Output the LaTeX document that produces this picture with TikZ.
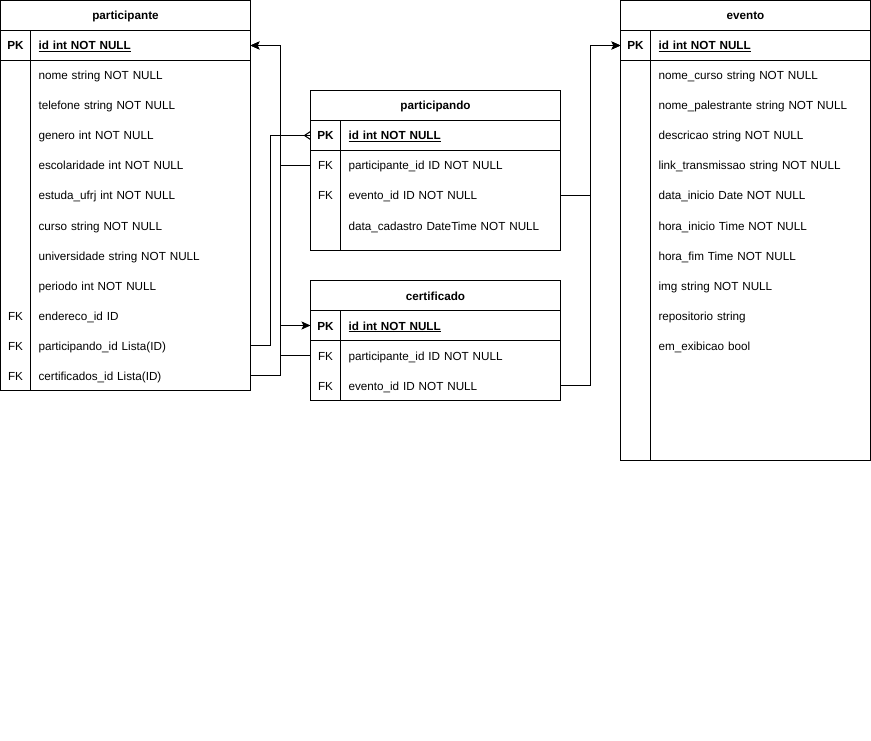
\documentclass[tikz,border=0pt]{standalone}
\usepackage{fontspec}
\setmainfont{Liberation Sans}
\usetikzlibrary{arrows.meta}
\begin{document}
\begin{tikzpicture}[x=1pt,y=-1pt,line width=1pt,
  every node/.style={outer sep=0pt,text height=10pt,text depth=1pt},
  hdr/.style={inner sep=0pt,font=\bfseries\fontsize{11.7pt}{14pt}\selectfont},
  keycell/.style={inner sep=0pt,minimum width=30pt,minimum height=30pt,font=\fontsize{11.7pt}{14pt}\selectfont},
  pkcell/.style={keycell,font=\bfseries\fontsize{11.7pt}{14pt}\selectfont},
  rowcell/.style={anchor=west,inner xsep=8pt,inner ysep=0pt,text width=204pt,align=left,minimum height=30pt,font=\fontsize{11.7pt}{14pt}\selectfont},
  idcell/.style={rowcell,font=\bfseries\fontsize{11.7pt}{14pt}\selectfont},
  arr/.style={-{Stealth[length=9pt,width=8pt,inset=2pt,fill=black]}}]
\useasboundingbox (-0.5,-0.5) rectangle (870.5,740.5);

% ---------- participante ----------
\draw (0,0) rectangle (250,390);
\draw (0,30) -- (250,30);
\draw (0,60) -- (250,60);
\draw (30,30) -- (30,390);
\node[hdr] (pt) at (125,15) {participante};
\node[pkcell] (pt-pk) at (15,45) {PK};
\node[idcell] (pt-id) at (30,45) {\underline{id int NOT NULL}};
\foreach \t [count=\i] in {nome string NOT NULL,telefone string NOT NULL,genero int NOT NULL,escolaridade int NOT NULL,estuda\_ufrj int NOT NULL,curso string NOT NULL,universidade string NOT NULL,periodo int NOT NULL,endereco\_id ID,participando\_id Lista(ID),certificados\_id Lista(ID)}
  \node[rowcell] (pt-r\i) at (30,45+30*\i) {\t};
\node[keycell] (pt-k9) at (15,315) {FK};
\node[keycell] (pt-k10) at (15,345) {FK};
\node[keycell] (pt-k11) at (15,375) {FK};

% ---------- participando ----------
\draw (310,90) rectangle (560,250);
\draw (310,120) -- (560,120);
\draw (310,150) -- (560,150);
\draw (340,120) -- (340,250);
\node[hdr] (pd) at (435,105) {participando};
\node[pkcell] (pd-pk) at (325,135) {PK};
\node[idcell] (pd-id) at (340,135) {\underline{id int NOT NULL}};
\node[keycell] (pd-k1) at (325,165) {FK};
\node[rowcell] (pd-r1) at (340,165) {participante\_id ID NOT NULL};
\node[keycell] (pd-k2) at (325,195) {FK};
\node[rowcell] (pd-r2) at (340,195) {evento\_id ID NOT NULL};
\node[rowcell] (pd-r3) at (340,225) {data\_cadastro DateTime NOT NULL};

% ---------- certificado ----------
\draw (310,280) rectangle (560,400);
\draw (310,310) -- (560,310);
\draw (310,340) -- (560,340);
\draw (340,310) -- (340,400);
\node[hdr] (ct) at (435,295) {certificado};
\node[pkcell] (ct-pk) at (325,325) {PK};
\node[idcell] (ct-id) at (340,325) {\underline{id int NOT NULL}};
\node[keycell] (ct-k1) at (325,355) {FK};
\node[rowcell] (ct-r1) at (340,355) {participante\_id ID NOT NULL};
\node[keycell] (ct-k2) at (325,385) {FK};
\node[rowcell] (ct-r2) at (340,385) {evento\_id ID NOT NULL};

% ---------- evento ----------
\draw (620,0) rectangle (870,460);
\draw (620,30) -- (870,30);
\draw (620,60) -- (870,60);
\draw (650,30) -- (650,460);
\node[hdr] (ev) at (745,15) {evento};
\node[pkcell] (ev-pk) at (635,45) {PK};
\node[idcell] (ev-id) at (650,45) {\underline{id int NOT NULL}};
\foreach \t [count=\i] in {nome\_curso string NOT NULL,nome\_palestrante string NOT NULL,descricao string NOT NULL,link\_transmissao string NOT NULL,data\_inicio Date NOT NULL,hora\_inicio Time NOT NULL,hora\_fim Time NOT NULL,img string NOT NULL,repositorio string,em\_exibicao bool}
  \node[rowcell] (ev-r\i) at (650,45+30*\i) {\t};

% ---------- connectors ----------
\draw (pt-r10.east) -- ++(20,0) |- (pd-pk.west);
\draw ([xshift=-6pt]pd-pk.west) -- ([yshift=4pt]pd-pk.west);
\draw ([xshift=-6pt]pd-pk.west) -- ([yshift=-4pt]pd-pk.west);
\draw[arr] (pd-k1.west) -- ++(-30,0) |- (pt-id.east);
\draw[arr] (ct-k1.west) -- ++(-30,0) |- (pt-id.east);
\draw[arr] (pt-r11.east) -- ++(30,0) |- (ct-pk.west);
\draw[arr] (pd-r2.east) -- ++(30,0) |- (ev-pk.west);
\draw[arr] (ct-r2.east) -- ++(30,0) |- (ev-pk.west);
\end{tikzpicture}
\end{document}
